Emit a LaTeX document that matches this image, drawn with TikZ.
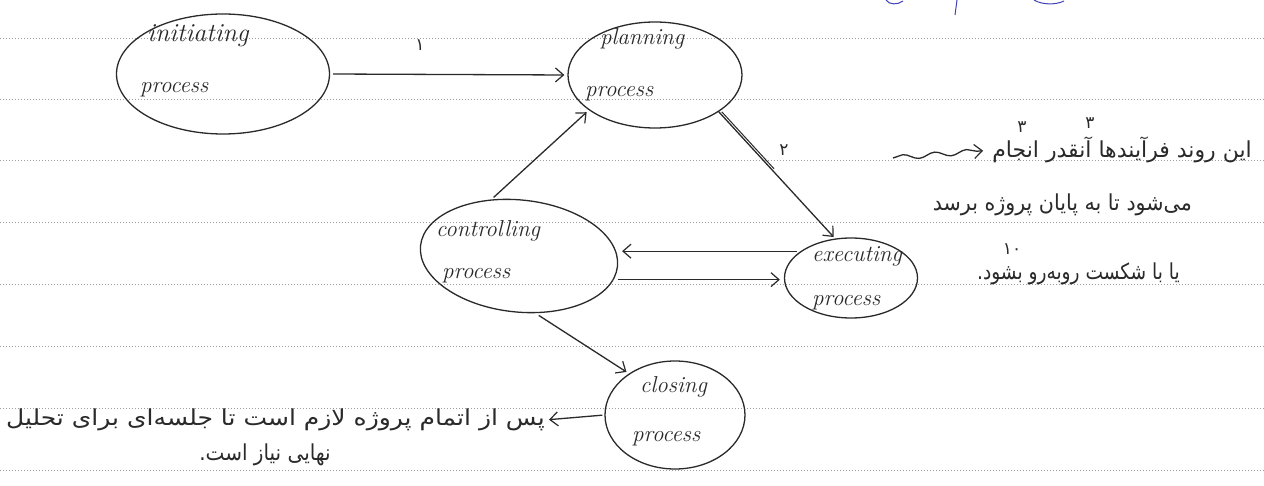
\documentclass[tikz,border=0pt]{standalone}
\usepackage{fontspec}
\newfontfamily\fafont[Script=Arabic]{DejaVu Sans}
\TeXXeTstate=1
\usetikzlibrary{shapes.geometric,arrows.meta,decorations.pathmorphing,calc}
\definecolor{ink}{HTML}{2A2A2A}
\definecolor{ruleink}{HTML}{9C9C9C}
\definecolor{blueink}{HTML}{4040B8}
\tikzset{
  proc/.style={ellipse, draw=ink, line width=1.3pt, inner sep=0pt},
  flow/.style={draw=ink, line width=1.3pt, -{Straight Barb[length=8pt,width=14pt,line width=1.2pt]}},
  lbl/.style={font=\itshape\fontsize{23}{23}\selectfont, text=ink, inner sep=0pt},
  fa/.style={font=\fafont\fontsize{20}{24}\selectfont, text=ink, inner sep=0pt},
  num/.style={font=\fafont\fontsize{17}{17}\selectfont, text=ink, inner sep=0pt},
  ruling/.style={draw=ruleink, line width=0.8pt, dash pattern=on 1.2pt off 1.8pt},
}
\begin{document}
\begin{tikzpicture}[x=1pt,y=-1pt]
\useasboundingbox (0,0) rectangle (1264,486);
\fill[white] (0,0) rectangle (1264,486);

% ruled notebook lines
\foreach \y in {38,99,160,222,284,346,408,470}
  \draw[ruling] (0,\y) -- (1264,\y);

% fragments of blue writing cut off at the top edge
\draw[blueink, line width=1pt] (886,0) .. controls (889,5) and (898,5) .. (903,1);
\draw[blueink, line width=1pt] (957,0) -- (955,15);
\draw[blueink, line width=1pt] (1034,0) .. controls (1042,5) and (1056,5) .. (1064,1);

% process bubbles
\node[proc, minimum width=213pt, minimum height=120pt] (init) at (223,74) {};
\node[proc, minimum width=174pt, minimum height=106pt] (plan) at (655,75) {};
\node[proc, minimum width=198pt, minimum height=112pt, rotate=-6] (ctrl) at (519,256) {};
\node[proc, minimum width=133pt, minimum height=80pt]  (exec) at (851,278) {};
\node[proc, minimum width=140pt, minimum height=108pt] (close) at (675,415) {};

% bubble labels
\node[lbl, anchor=base west, font=\itshape\fontsize{26}{26}\selectfont] (initA) at (147,42) {initiating};
\node[lbl, anchor=base west] (initB) at (140,93) {process};
\node[lbl, anchor=base west] (planA) at (600,45) {planning};
\node[lbl, anchor=base west] (planB) at (585,97) {process};
\node[lbl, anchor=base west] (ctrlA) at (436,237) {controlling};
\node[lbl, anchor=base west] (ctrlB) at (442,279) {process};
\node[lbl, anchor=base west] (execA) at (812,262) {executing};
\node[lbl, anchor=base west] (execB) at (812,306) {process};
\node[lbl, anchor=base west] (closeA) at (640,392) {closing};
\node[lbl, anchor=base west] (closeB) at (632,441) {process};

% step numbers
\node[num] (one) at (420,45) {۱};
\node[num] (two) at (784,150) {۲};

% connectors
\draw[flow, shorten <=3pt, shorten >=3pt] (init.east) -- (plan.west);
\draw[flow, shorten >=2pt] (plan.-30) -- (exec.112);
\draw[ink, line width=1pt] ([xshift=3pt]plan.-30) -- ($(plan.-30)!0.45!(exec.112)+(3pt,0)$);
\draw[flow, shorten <=3pt, shorten >=3pt] (ctrl.122) -- (plan.208);
\draw[flow, shorten <=4pt, shorten >=4pt] (exec.152) -- (exec.152 -| ctrl.east);
\draw[flow, shorten <=4pt, shorten >=4pt] (ctrl.-8) -- (ctrl.-8 -| exec.west);
\draw[flow, shorten <=4pt, shorten >=3pt] (ctrl.-68) -- (close.138);

% notes
\node[fa, anchor=east] (R1) at (1252,150) {\scalebox{1.1}[1.1]{\beginR این روند فرآیندها آنقدر انجام\endR}};
\node[fa, anchor=east] (R2) at (1192,205) {\scalebox{1.03}[1.1]{\beginR می‌شود تا به پایان پروژه برسد\endR}};
\node[fa, anchor=east] (R3) at (1180,274) {\scalebox{0.93}[1.1]{\beginR یا با شکست روبه‌رو بشود.\endR}};
\node[num] (three1) at (1022,127) {۳};
\node[num] (three2) at (1090,123) {۳};
\node[num] (ten) at (1012,249) {\beginR ۱۰\endR};

\node[fa, anchor=east] (L1) at (545,420) {\scalebox{1.25}[1.1]{\beginR پس از اتمام پروژه لازم است تا جلسه‌ای برای تحلیل\endR}};
\node[fa] (L2) at (265,455) {\scalebox{1}[1.1]{\beginR نهایی نیاز است.\endR}};

\coordinate (wv) at (893,158);
\draw[flow, shorten >=9pt, decorate, decoration={snake, amplitude=2.5pt, segment length=32pt, post length=10pt}] (wv) -- (R1.west);
\draw[flow, shorten <=2pt, shorten >=4pt] (close.west) -- (L1.east);
\end{tikzpicture}
\end{document}
